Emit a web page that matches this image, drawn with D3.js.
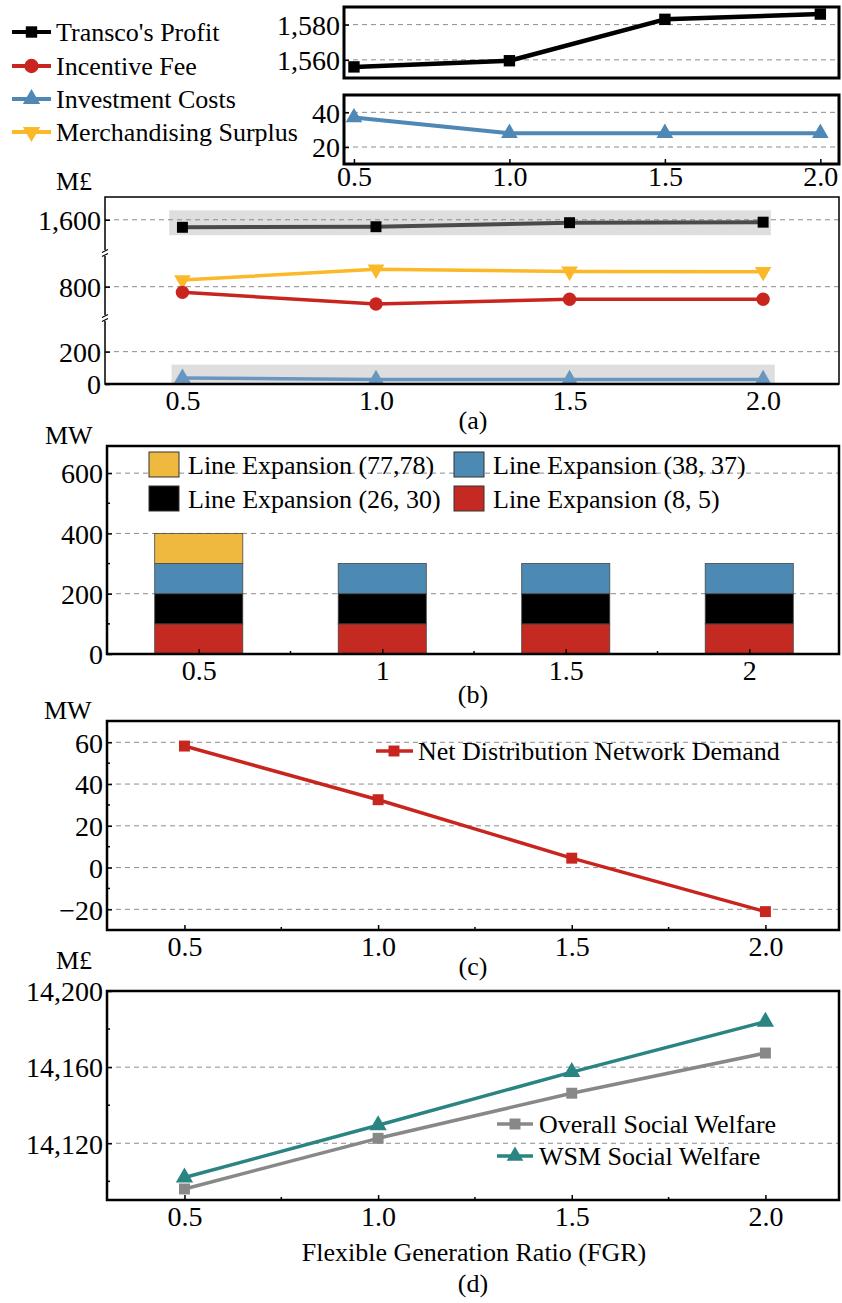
<!DOCTYPE html>
<html>
<head>
<meta charset="utf-8">
<script src="https://cdn.jsdelivr.net/npm/d3@7"></script>
<style>
  body { margin: 0; background: #fff; }
</style>
</head>
<body>
<svg id="chart"></svg>
<script>
const width = 842;
const height = 1303;

// x values (flexible generation ratio)
const fgr = [0.5, 1.0, 1.5, 2.0];
const fgrTicks = [0.5, 1.0, 1.5, 2.0];

// panel (a) series, M£
const transcoProfit = [1556, 1559.5, 1583, 1586];
const incentiveFee = [767, 698, 726, 726];
const investmentCosts = [37, 28, 28, 28];
const merchSurplus = [839, 902, 890, 888];
const seriesNames = ["Transco's Profit", "Incentive Fee", "Investment Costs", "Merchandising Surplus"];

// panel (b) stacked line expansions, MW
const barCategories = ["0.5", "1", "1.5", "2"];
const exp85 = [100, 100, 100, 100];
const exp2630 = [100, 100, 100, 100];
const exp3837 = [100, 100, 100, 100];
const exp7778 = [100, 0, 0, 0];
const expansionNames = ["Line Expansion (77,78)", "Line Expansion (38, 37)", "Line Expansion (26, 30)", "Line Expansion (8, 5)"];

// panel (c), MW
const netDemand = [58.2, 32.5, 4.5, -21.1];

// panel (d), M£
const overallWelfare = [14096, 14122.6, 14146.3, 14167.4];
const wsmWelfare = [14102, 14129.5, 14157.4, 14183.9];

const colors = {
  black: "#000000",
  darkLine: "#4a4a4a",
  red: "#c8251f",
  blue: "#4f88b5",
  blueLight: "#6797c0",
  yellow: "#fbb828",
  barYellow: "#efb93f",
  barBlue: "#4c8ab4",
  barRed: "#c52a22",
  gray: "#888888",
  teal: "#2a8582"
};

const serif = "'Liberation Serif', serif";

const svg = d3.select("#chart")
  .attr("width", width)
  .attr("height", height)
  .style("font-family", serif);

const tickFont = "28px";
const textFont = "26px";

const symbol = (type, size) => d3.symbol().type(type).size(size)();

function label(g, x, y, txt, anchor) {
  return g.append("text")
    .attr("x", x).attr("y", y)
    .attr("dy", "0.35em")
    .attr("text-anchor", anchor || "start")
    .style("font-family", serif)
    .style("font-size", textFont)
    .attr("fill", "#000")
    .text(txt);
}

function grid(g, y, values, x0, x1) {
  g.selectAll(null)
    .data(values)
    .enter()
    .append("line")
    .attr("x1", x0).attr("x2", x1)
    .attr("y1", d => y(d)).attr("y2", d => y(d))
    .attr("stroke", "#8c8c8c")
    .attr("stroke-width", 1)
    .attr("stroke-dasharray", "5,4");
}

function yTicks(g, y, values, x0, fmt) {
  const axis = d3.axisLeft(y).tickValues(values).tickSize(-5).tickPadding(4).tickFormat(fmt);
  const a = g.append("g").attr("transform", `translate(${x0},0)`).call(axis);
  a.attr("font-family", null);
  a.select(".domain").remove();
  a.selectAll("line").attr("stroke", "#000").attr("stroke-width", 1.5);
  a.selectAll("text").style("font-family", serif).style("font-size", tickFont).attr("dy", "0.35em");
  return a;
}

function xTicks(g, x, values, y0, fmt, pad) {
  const axis = d3.axisBottom(x).tickValues(values).tickSize(-5).tickPadding(pad).tickFormat(fmt);
  const a = g.append("g").attr("transform", `translate(0,${y0})`).call(axis);
  a.attr("font-family", null);
  a.select(".domain").remove();
  a.selectAll("line").attr("stroke", "#000").attr("stroke-width", 1.5);
  a.selectAll("text").style("font-family", serif).style("font-size", tickFont).attr("dy", "0.71em");
  return a;
}

function minorTicks(g, pts, horizontal, len) {
  g.selectAll(null)
    .data(pts)
    .enter()
    .append("line")
    .attr("x1", d => d[0])
    .attr("x2", d => horizontal ? d[0] : d[0] + len)
    .attr("y1", d => d[1])
    .attr("y2", d => horizontal ? d[1] - len : d[1])
    .attr("stroke", "#000")
    .attr("stroke-width", 1.5);
}

function series(g, x, y, xs, ys, color, width, marker, markerColor, size, rotate) {
  const line = d3.line().x((d, i) => x(xs[i])).y(d => y(d));
  g.append("path")
    .datum(ys)
    .attr("d", line)
    .attr("fill", "none")
    .attr("stroke", color)
    .attr("stroke-width", width)
    .attr("stroke-linejoin", "round");
  g.selectAll(null)
    .data(ys)
    .enter()
    .append("path")
    .attr("d", symbol(marker, size))
    .attr("transform", (d, i) => `translate(${x(xs[i])},${y(d)})` + (rotate ? " rotate(180)" : ""))
    .attr("fill", markerColor);
}

function frame(g, x0, x1, y0, y1, w) {
  g.append("rect")
    .attr("x", x0).attr("y", y0)
    .attr("width", x1 - x0).attr("height", y1 - y0)
    .attr("fill", "none")
    .attr("stroke", "#000")
    .attr("stroke-width", w);
}

const defs = svg.append("defs");
function clip(id, x0, x1, y0, y1) {
  defs.append("clipPath").attr("id", id)
    .append("rect").attr("x", x0).attr("y", y0).attr("width", x1 - x0).attr("height", y1 - y0);
  return `url(#${id})`;
}

// ---------- top-left legend ----------
const legend = svg.append("g");
const legendRows = [
  { name: seriesNames[0], color: colors.black, marker: d3.symbolSquare, size: 130, rot: false },
  { name: seriesNames[1], color: colors.red, marker: d3.symbolCircle, size: 160, rot: false },
  { name: seriesNames[2], color: colors.blue, marker: d3.symbolTriangle, size: 130, rot: false },
  { name: seriesNames[3], color: colors.yellow, marker: d3.symbolTriangle, size: 130, rot: true }
];
const legendY = [32, 66, 99, 132];
legendRows.forEach((r, i) => {
  legend.append("line")
    .attr("x1", 12).attr("x2", 51)
    .attr("y1", legendY[i]).attr("y2", legendY[i])
    .attr("stroke", r.color).attr("stroke-width", 4);
  legend.append("path")
    .attr("d", symbol(r.marker, r.size))
    .attr("transform", `translate(31.5,${legendY[i]})` + (r.rot ? " rotate(180)" : ""))
    .attr("fill", r.color);
  label(legend, 56, legendY[i], r.name);
});

// ---------- insets ----------
const insetX = d3.scaleLinear().domain([0.468, 2.06]).range([344, 839]);

const in1 = svg.append("g");
const in1Y = d3.scaleLinear().domain([1549.7, 1590]).range([78, 7]);
grid(in1, in1Y, [1560, 1580], 344, 839);
yTicks(in1, in1Y, [1560, 1580], 344, d3.format(","));
const in1g = in1.append("g").attr("clip-path", clip("c1", 344, 839, 7, 78));
series(in1g, insetX, in1Y, fgr, transcoProfit, colors.black, 4.5, d3.symbolSquare, colors.black, 130, false);
frame(in1, 344, 839, 7, 78, 3);

const in2 = svg.append("g");
const in2Y = d3.scaleLinear().domain([10.2, 50]).range([164, 95]);
grid(in2, in2Y, [20, 40], 344, 839);
yTicks(in2, in2Y, [20, 40], 344, d3.format("d"));
const in2g = in2.append("g").attr("clip-path", clip("c2", 344, 839, 95, 164));
series(in2g, insetX, in2Y, fgr, investmentCosts, colors.blue, 4, d3.symbolTriangle, colors.blue, 120, false);
frame(in2, 344, 839, 95, 164, 3);
xTicks(in2, insetX, fgrTicks, 164, d3.format(".1f"), 2);

// ---------- panel (a) ----------
const pa = svg.append("g");
const ax = d3.scaleLinear().domain([0.3, 2.196]).range([105, 839]);
// broken axis: three segments with gaps at the breaks
const ay = d3.scaleLinear()
  .domain([0, 408, 616, 998, 1406, 1733])
  .range([384, 318, 318, 253, 253, 197]);

pa.append("rect")
  .attr("x", ax(0.466)).attr("width", ax(2.02) - ax(0.466))
  .attr("y", ay(1655)).attr("height", ay(1510) - ay(1655))
  .attr("fill", "#dedede");
pa.append("rect")
  .attr("x", ax(0.472)).attr("width", ax(2.03) - ax(0.472))
  .attr("y", ay(120)).attr("height", ay(0) - ay(120))
  .attr("fill", "#dedede");
grid(pa, ay, [200, 800, 1600], 105, 839);
yTicks(pa, ay, [0, 200, 800, 1600], 105, d3.format(","));

const pag = pa.append("g").attr("clip-path", clip("ca", 105, 839, 197, 384));
series(pag, ax, ay, fgr, transcoProfit, colors.darkLine, 4, d3.symbolSquare, colors.black, 120, false);
series(pag, ax, ay, fgr, merchSurplus, colors.yellow, 3.5, d3.symbolTriangle, colors.yellow, 120, true);
series(pag, ax, ay, fgr, incentiveFee, colors.red, 3.5, d3.symbolCircle, colors.red, 140, false);
series(pag, ax, ay, fgr, investmentCosts, colors.blueLight, 3.5, d3.symbolTriangle, colors.blueLight, 120, false);

frame(pa, 105, 839, 197, 384, 1.5);
pa.append("line").attr("x1", 105).attr("x2", 839).attr("y1", 384).attr("y2", 384)
  .attr("stroke", "#000").attr("stroke-width", 2.5);
// break marks
[253, 318].forEach(yb => {
  pa.append("rect").attr("x", 102).attr("y", yb - 3).attr("width", 6).attr("height", 6).attr("fill", "#fff");
  [-2, 2].forEach(o => {
    pa.append("line")
      .attr("x1", 102).attr("x2", 108)
      .attr("y1", yb + o + 1.5).attr("y2", yb + o - 1.5)
      .attr("stroke", "#000").attr("stroke-width", 1.2);
  });
});
xTicks(pa, ax, fgrTicks, 384, d3.format(".1f"), 6).selectAll("line").remove();

label(svg, 56, 181, "M£");
label(svg, 473, 420, "(a)", "middle");

// ---------- panel (b) ----------
const pb = svg.append("g");
const bx = d3.scaleBand().domain(barCategories).range([107, 841]).paddingInner(0.52).paddingOuter(0.26);
const by = d3.scaleLinear().domain([0, 690]).range([654, 446]);

grid(pb, by, [200, 400, 600], 107, 839);

const barRows = barCategories.map((c, i) => ({ cat: c, e85: exp85[i], e2630: exp2630[i], e3837: exp3837[i], e7778: exp7778[i] }));
const stackKeys = ["e85", "e2630", "e3837", "e7778"];
const stackColors = { e85: colors.barRed, e2630: colors.black, e3837: colors.barBlue, e7778: colors.barYellow };
const stacked = d3.stack().keys(stackKeys)(barRows);

pb.selectAll(".layer")
  .data(stacked)
  .enter()
  .append("g")
  .attr("fill", d => stackColors[d.key])
  .selectAll("rect")
  .data(d => d.filter(s => s[1] - s[0] > 0))
  .enter()
  .append("rect")
  .attr("x", d => bx(d.data.cat))
  .attr("width", bx.bandwidth())
  .attr("y", d => by(d[1]))
  .attr("height", d => by(d[0]) - by(d[1]))
  .attr("stroke", "#444")
  .attr("stroke-width", 0.8);

yTicks(pb, by, [0, 200, 400, 600], 107, d3.format("d"));
minorTicks(pb, [100, 300, 500].map(v => [107, by(v)]), false, 3);
frame(pb, 107, 839, 446, 654, 2.5);
xTicks(pb, d3.scalePoint().domain(barCategories).range([bx("0.5") + bx.bandwidth() / 2, bx("2") + bx.bandwidth() / 2]),
  barCategories, 654, d => d, 6);
minorTicks(pb, barCategories.slice(1).map(c => [bx(c) - bx.step() * bx.paddingInner() / 2, 654]), true, 3);

// legend (b)
const bLegend = [
  { name: expansionNames[0], color: colors.barYellow, x: 149, y: 452 },
  { name: expansionNames[1], color: colors.barBlue, x: 454, y: 452 },
  { name: expansionNames[2], color: colors.black, x: 149, y: 486 },
  { name: expansionNames[3], color: colors.barRed, x: 454, y: 486 }
];
bLegend.forEach(l => {
  pb.append("rect").attr("x", l.x).attr("y", l.y).attr("width", 30).attr("height", 25)
    .attr("fill", l.color).attr("stroke", "#333").attr("stroke-width", 1);
  label(pb, l.x + 39, l.y + 12.5, l.name);
});

label(svg, 45, 435, "MW");
label(svg, 473, 694, "(b)", "middle");

// ---------- panel (c) ----------
const pc = svg.append("g");
const cx = d3.scaleLinear().domain([0.3, 2.19]).range([107, 839]);
const cy = d3.scaleLinear().domain([-29.9, 70.2]).range([930, 721]);
grid(pc, cy, [-20, 0, 20, 40, 60], 107, 839);
yTicks(pc, cy, [-20, 0, 20, 40, 60], 107, d3.format("d"));
minorTicks(pc, [-10, 10, 30, 50].map(v => [107, cy(v)]), false, 3);
series(pc, cx, cy, fgr, netDemand, colors.red, 3.5, d3.symbolSquare, colors.red, 120, false);
frame(pc, 107, 839, 721, 930, 2.5);
xTicks(pc, cx, fgrTicks, 930, d3.format(".1f"), 6);
minorTicks(pc, [0.75, 1.25, 1.75].map(v => [cx(v), 930]), true, 3);

pc.append("line").attr("x1", 376).attr("x2", 413).attr("y1", 751).attr("y2", 751)
  .attr("stroke", colors.red).attr("stroke-width", 3.5);
pc.append("path").attr("d", symbol(d3.symbolSquare, 120)).attr("transform", "translate(394,751)").attr("fill", colors.red);
label(pc, 418, 751, "Net Distribution Network Demand");

label(svg, 44, 710, "MW");
label(svg, 473, 966, "(c)", "middle");

// ---------- panel (d) ----------
const pd = svg.append("g");
const dx = d3.scaleLinear().domain([0.3, 2.19]).range([107, 839]);
const dy = d3.scaleLinear().domain([14090.2, 14200]).range([1200, 991]);
grid(pd, dy, [14120, 14160], 107, 839);
yTicks(pd, dy, [14120, 14160, 14200], 107, d3.format(","));
minorTicks(pd, [14100, 14140, 14180].map(v => [107, dy(v)]), false, 3);
series(pd, dx, dy, fgr, overallWelfare, colors.gray, 3.5, d3.symbolSquare, colors.gray, 120, false);
series(pd, dx, dy, fgr, wsmWelfare, colors.teal, 3.5, d3.symbolTriangle, colors.teal, 130, false);
frame(pd, 107, 839, 991, 1200, 2.5);
xTicks(pd, dx, fgrTicks, 1200, d3.format(".1f"), 6);
minorTicks(pd, [0.75, 1.25, 1.75].map(v => [dx(v), 1200]), true, 3);

[{ name: "Overall Social Welfare", color: colors.gray, marker: d3.symbolSquare, y: 1124 },
 { name: "WSM Social Welfare", color: colors.teal, marker: d3.symbolTriangle, y: 1156 }].forEach(l => {
  pd.append("line").attr("x1", 497).attr("x2", 533).attr("y1", l.y).attr("y2", l.y)
    .attr("stroke", l.color).attr("stroke-width", 3.5);
  pd.append("path").attr("d", symbol(l.marker, 120)).attr("transform", `translate(515,${l.y})`).attr("fill", l.color);
  label(pd, 539, l.y, l.name);
});

label(svg, 56, 960, "M£");
label(svg, 474, 1252, "Flexible Generation Ratio (FGR)", "middle");
label(svg, 473, 1283, "(d)", "middle");
</script>
</body>
</html>
